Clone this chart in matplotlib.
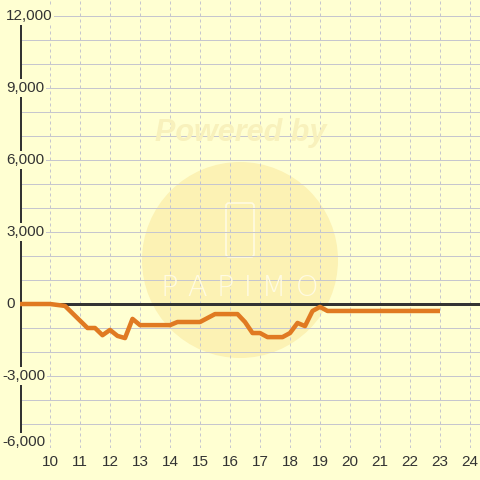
import matplotlib
matplotlib.use("Agg")
import matplotlib.pyplot as plt
from matplotlib.patches import Circle, FancyBboxPatch
from matplotlib.transforms import blended_transform_factory

# Data
hours = [9, 10, 10.5, 11.25, 11.5, 11.75, 12, 12.25, 12.5, 12.75, 13, 14, 14.25,
         15, 15.5, 16.25, 16.5, 16.75, 17, 17.25, 17.75, 18, 18.25, 18.5, 18.75,
         19, 19.25, 23]
values = [0, 0, -80, -1000, -1000, -1300, -1080, -1330, -1420, -620, -880, -880, -750,
          -750, -420, -420, -750, -1210, -1210, -1380, -1380, -1210, -790, -920, -290,
          -120, -290, -290]
x_ticks = list(range(10, 25))
y_label_values = [12000, 9000, 6000, 3000, 0, -3000, -6000]
y_grid_values = list(range(-6000, 12001, 1000))

BG = "#ffffd2"
DPI = 100
px = 72 / DPI  # points per pixel
FS = 11

plt.rcParams['font.family'] = ['Liberation Sans', 'DejaVu Sans']

fig = plt.figure(figsize=(4.8, 4.8), dpi=DPI, facecolor=BG)
ax = fig.add_axes([20 / 480, 32 / 480, 460 / 480, 448 / 480])
ax.set_facecolor(BG)
ax.set_xlim(9, 9 + 460 / 30)
ax.set_ylim(-6000, 12000 + 16 / 24 * 1000)
for s in ax.spines.values():
    s.set_visible(False)
ax.set_xticks([])
ax.set_yticks([])

# Watermark
tr_px = fig.dpi_scale_trans
circ = Circle((240 / DPI, (480 - 260) / DPI), 98 / DPI, transform=tr_px,
              facecolor="#fcf2b4", edgecolor="none", zorder=0.2)
ax.add_patch(circ)
fig.text(241 / 480, 1 - 133 / 480, "Powered by", ha="center", va="center",
         fontsize=22, fontweight="bold", fontstyle="italic", color="#f8f1bc", zorder=0.3)
ax.add_patch(FancyBboxPatch((226 / DPI, (480 - 257) / DPI), 28 / DPI, 54 / DPI,
                            boxstyle="round,pad=0,rounding_size=0.03", transform=tr_px,
                            facecolor="none", edgecolor="#fffbe2", lw=1.2, zorder=0.3))
fig.text(240 / 480, 1 - 288 / 480, "P A P I M O", ha="center", va="center",
         fontsize=21, color="#fffbe2", zorder=0.3, family="DejaVu Sans",
         fontweight="light")

# Grid
for v in y_grid_values:
    ax.axhline(v, color="#c6c6ce", lw=1 * px, zorder=1)
for t in x_ticks:
    ax.axvline(t, color="#c6c6ce", lw=1 * px, ls=(0, (3, 3)), zorder=1)

# Axis lines
ax.plot([9, 9], [-6000, 12000], color="#333333", lw=3 * px, zorder=2,
        solid_capstyle="butt")
ax.axhline(0, color="#333333", lw=3 * px, zorder=2)

# Data line
ax.plot(hours, values, color="#e07a22", lw=4.5 * px, zorder=3,
        solid_joinstyle="round", solid_capstyle="butt")

# Y labels
ytr = blended_transform_factory(fig.transFigure, ax.transData)
for v in y_label_values:
    lab = f"{v:,}"
    xpos = 2 if v < 0 else 6
    yoff = 250 if v == -6000 else 0
    ax.text(xpos / 480, v + yoff, lab, transform=ytr, ha="left", va="center",
            fontsize=FS, color="#333333", zorder=4,
            bbox=dict(facecolor=BG, edgecolor="none", pad=1.2))

# X labels
xtr = blended_transform_factory(ax.transData, fig.transFigure)
for t in x_ticks:
    ax.text(t, 1 - 462 / 480, str(t), transform=xtr, ha="center", va="center",
            fontsize=FS, color="#333333", zorder=4)

fig.savefig("out.png", dpi=DPI, facecolor=BG)
